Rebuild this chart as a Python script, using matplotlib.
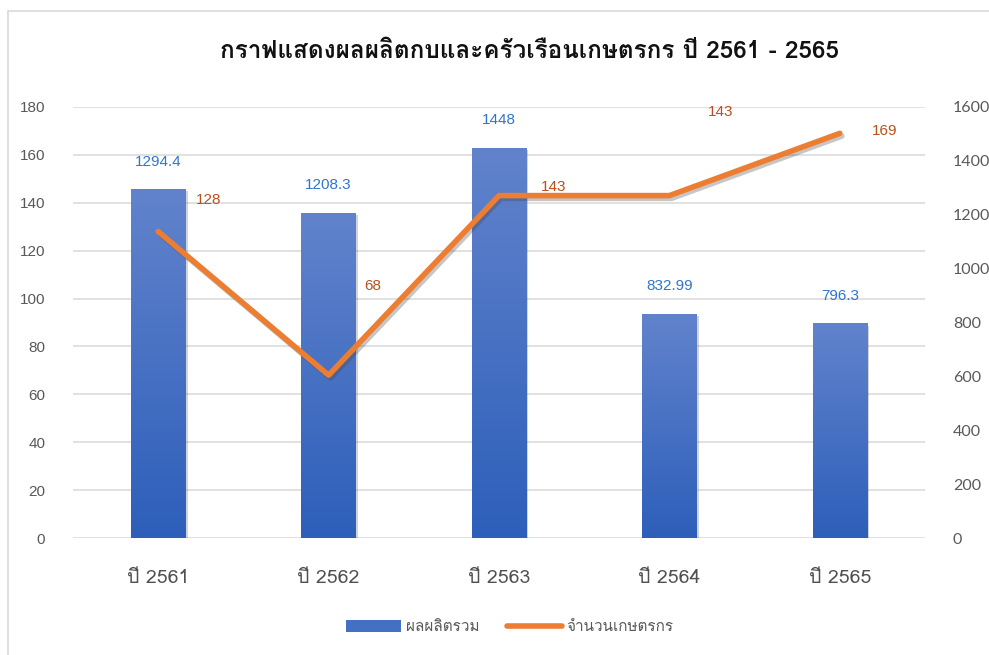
import matplotlib
matplotlib.use("Agg")
import matplotlib.pyplot as plt
import matplotlib.patheffects as pe
import numpy as np
from matplotlib.colors import LinearSegmentedColormap
from matplotlib.lines import Line2D
from matplotlib.patches import Patch, Rectangle

# ── data ───────────────────────────────────────────────────────────────────────
years = ["ปี 2561", "ปี 2562", "ปี 2563", "ปี 2564", "ปี 2565"]
production = [1294.4, 1208.3, 1448, 832.99, 796.3]      # right axis, bars
farmers = [128, 68, 143, 143, 169]                       # left axis, line

# label offsets for the farmer counts (points from the line vertex)
farmer_label_offsets = [(36, 23), (32, 64), (39, 6), (37, 60), (32, 2)]

THAI = ["Loma", "Noto Sans Thai Looped", "DejaVu Sans"]
GREY = "#595959"
BLUE_TOP, BLUE_BOTTOM = "#6283cc", "#2d5fba"
ORANGE = "#ed7d31"

fig = plt.figure(figsize=(9.89, 6.55), dpi=100)
fig.patch.set_facecolor("white")

# thin chart-area border
fig.patches.append(Rectangle((8 / 989, -0.1), 1.2, 1.1 - 11 / 655,
                             transform=fig.transFigure, fill=False,
                             edgecolor="#d9d9d9", linewidth=1.2))

ax = fig.add_axes([73 / 989, 1 - 538 / 655, 852 / 989, 431 / 655])
ax2 = ax.twinx()

x = np.arange(len(years))
ax.set_xlim(-0.5, len(years) - 0.5)
ax.set_ylim(0, 180)
ax2.set_ylim(0, 1600)

# gridlines follow the left scale
ax.set_yticks(np.arange(0, 181, 20))
ax.yaxis.grid(True, color="#d9d9d9", linewidth=1.1)
ax.set_axisbelow(True)
ax2.set_yticks(np.arange(0, 1601, 200))

for a in (ax, ax2):
    for s in a.spines.values():
        s.set_visible(False)
    a.tick_params(length=0)

ax.tick_params(axis="y", pad=20, labelsize=11, labelcolor=GREY)
for t in ax.get_yticklabels():
    t.set_fontfamily("Liberation Sans")
ax2.tick_params(axis="y", pad=20, labelsize=11.5, labelcolor=GREY)
for t in ax2.get_yticklabels():
    t.set_fontfamily("Lato")

ax.set_xticks(x)
ax.set_xticklabels(years, family=THAI, fontsize=14, color="#505050")
ax.tick_params(axis="x", pad=22)

# bars with a vertical gradient fill
cmap = LinearSegmentedColormap.from_list("bar", [BLUE_BOTTOM, BLUE_TOP])
grad = np.linspace(0, 1, 256).reshape(-1, 1)
bars = ax2.bar(x, production, width=0.32, color=BLUE_BOTTOM, zorder=2,
               path_effects=[pe.SimplePatchShadow(offset=(1.5, -1.5),
                                                  alpha=0.25, shadow_rgbFace="#555555"),
                             pe.Normal()])
for b in bars:
    x0, w, h = b.get_x(), b.get_width(), b.get_height()
    im = ax2.imshow(grad, extent=[x0, x0 + w, 0, h], origin="lower",
                    aspect="auto", cmap=cmap, zorder=3)
    im.set_clip_path(b)
ax2.set_xlim(-0.5, len(years) - 0.5)
ax2.set_ylim(0, 1600)

for xi, v in zip(x, production):
    ax2.annotate(f"{v:g}", (xi, v), xytext=(0, 20), textcoords="offset points",
                 ha="center", va="center", fontsize=11, color="#2e75d0",
                 family="Liberation Sans", zorder=6)

# farmer line, drawn on the top axes but in left-axis units
ax2.plot(x, farmers, transform=ax.transData, color=ORANGE, linewidth=4,
         solid_capstyle="round", solid_joinstyle="round", zorder=5,
         path_effects=[pe.SimpleLineShadow(offset=(1.5, -2), alpha=0.3,
                                           shadow_color="#444444"),
                       pe.Normal()])
ax2.set_ylim(0, 1600)

for xi, v, off in zip(x, farmers, farmer_label_offsets):
    ax2.annotate(f"{v}", (xi, v), xycoords=ax.transData, xytext=off,
                 textcoords="offset points", ha="center", va="center",
                 fontsize=11, color="#b8501d", family="Liberation Sans",
                 zorder=6)

fig.text(530 / 989, 1 - 52 / 655,
         "กราฟแสดงผลผลิตกบและครัวเรือนเกษตรกร ปี 2561 - 2565",
         ha="center", va="center", fontsize=17.5, fontweight="bold",
         family=THAI, color="#111111")

handles = [Patch(facecolor="#4470c4", edgecolor="none"),
           Line2D([], [], color=ORANGE, linewidth=4, solid_capstyle="round")]
fig.legend(handles, ["ผลผลิตรวม", "จำนวนเกษตรกร"], loc="center",
           bbox_to_anchor=(510 / 989, 1 - 627 / 655), ncol=2, frameon=False,
           prop={"family": THAI, "size": 11}, labelcolor=GREY,
           handlelength=3.6, handleheight=0.8, handletextpad=0.3,
           columnspacing=1.8)

fig.savefig("out.png", dpi=100)
